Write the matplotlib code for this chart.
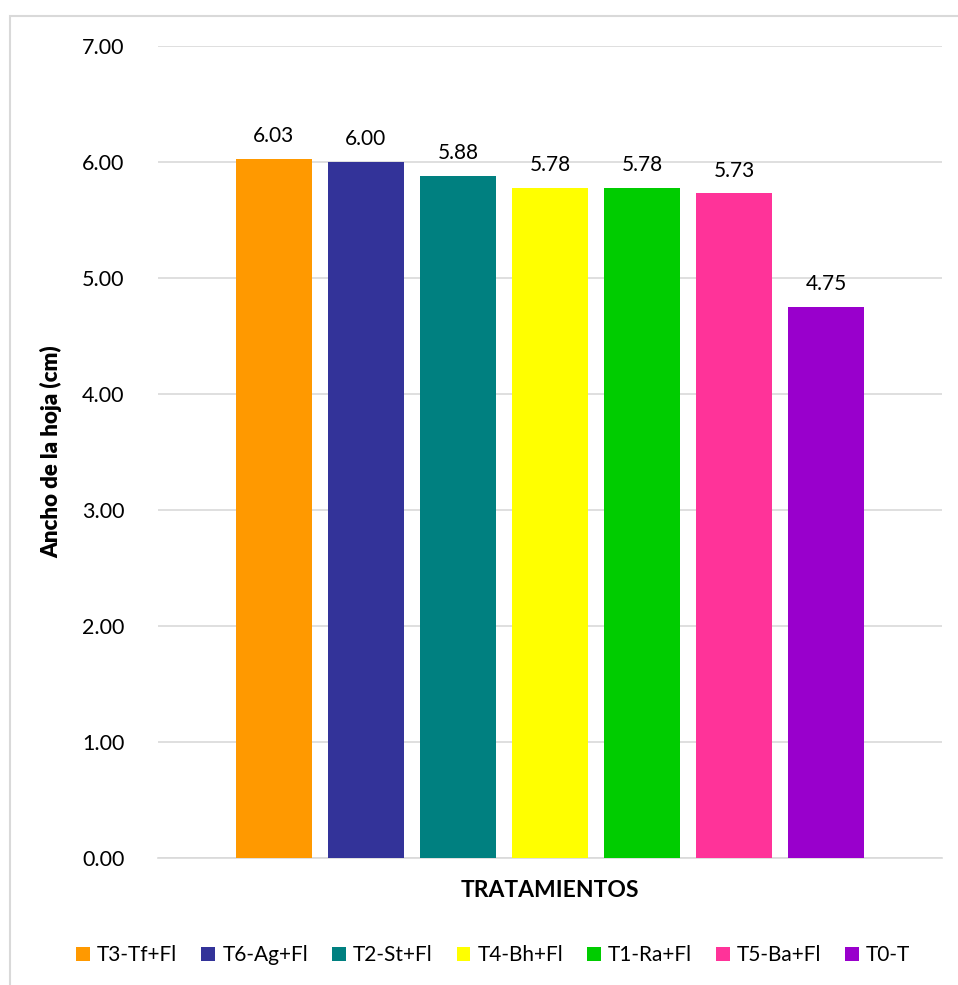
import matplotlib.pyplot as plt
from matplotlib.patches import Rectangle

# treatment means for leaf width
tratamientos = ['T3-Tf+Fl', 'T6-Ag+Fl', 'T2-St+Fl', 'T4-Bh+Fl', 'T1-Ra+Fl', 'T5-Ba+Fl', 'T0-T']
ancho = [6.03, 6.00, 5.88, 5.78, 5.78, 5.73, 4.75]
colores = ['#FF9900', '#333399', '#008080', '#FFFF00', '#00CC00', '#FF3399', '#9900CC']
yticks = [0, 1, 2, 3, 4, 5, 6, 7]

plt.rcParams['font.family'] = ['Lato', 'DejaVu Sans']

fig = plt.figure(figsize=(9.58, 9.85), dpi=100)
ax = fig.add_axes([0.1649, 0.1289, 0.8184, 0.8244])

# light frame around the whole chart (runs off the right and bottom edges)
fig.patches.append(Rectangle((10 / 958, -0.05), 1.0, 1.05 - 16 / 985, transform=fig.transFigure,
                             fill=False, edgecolor='#D9D9D9', linewidth=1.5))

for i, (t, v, c) in enumerate(zip(tratamientos, ancho, colores)):
    ax.bar(i, v, width=0.826, color=c, label=t, zorder=3)
    ax.text(i, v + 0.11, f'{v:.2f}', ha='center', va='bottom', fontsize=15)

ax.set_xlim(-1.26, 7.26)
ax.set_ylim(0, 7)
ax.set_yticks(yticks)
ax.set_yticklabels([f'{y:.2f}' for y in yticks], fontsize=15.5)
ax.set_xticks([])
ax.yaxis.grid(True, color='#D9D9D9', linewidth=1.2, zorder=0)
ax.tick_params(axis='y', length=0, pad=24)
for s in ['top', 'right', 'left']:
    ax.spines[s].set_visible(False)
ax.spines['bottom'].set_color('#D9D9D9')
ax.spines['bottom'].set_linewidth(1.2)

ax.set_ylabel('Ancho de la hoja (cm)', fontsize=16, fontweight='heavy', labelpad=14)
ax.set_xlabel('TRATAMIENTOS', fontsize=16.5, fontweight='bold', labelpad=16)

fig.legend(loc='center', bbox_to_anchor=(0.515, 1 - 955 / 985), ncol=7, frameon=False,
           fontsize=15, handlelength=0.65, handleheight=0.65, handletextpad=0.35, columnspacing=1.15)

fig.savefig('out.png', dpi=100)
